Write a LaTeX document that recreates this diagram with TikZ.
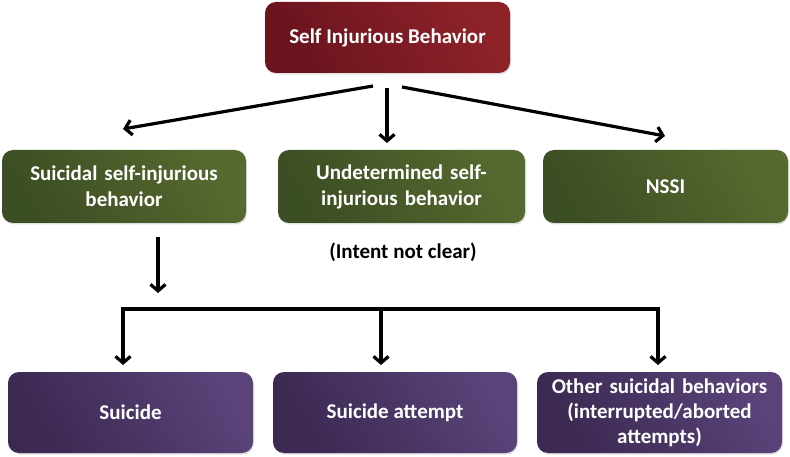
\documentclass[tikz,border=0pt]{standalone}
\usepackage{fontspec}
\setmainfont{Carlito}
\usetikzlibrary{arrows.meta,shadows}
\definecolor{redA}{HTML}{6A141E}
\definecolor{redB}{HTML}{8E2229}
\definecolor{grnA}{HTML}{3C4E23}
\definecolor{grnB}{HTML}{56692F}
\definecolor{purA}{HTML}{3B2951}
\definecolor{purB}{HTML}{594379}
\tikzset{
  box/.style={rounded corners=11pt, align=center, text=white,
    font=\fontsize{21}{26}\selectfont\bfseries, inner sep=2pt,
    drop shadow={shadow xshift=1pt, shadow yshift=-1.5pt, opacity=0.25}},
  redbox/.style={box, left color=redA, right color=redB, shading angle=120},
  grnbox/.style={box, left color=grnA, right color=grnB, shading angle=120},
  purbox/.style={box, left color=purA, right color=purB, shading angle=120},
  arr/.style={line width=3.2pt, -{Straight Barb[length=6.5pt,width=15pt,line width=3.2pt]}},
  ln/.style={line width=3.2pt}
}
\begin{document}
\begin{tikzpicture}[x=1pt,y=-1pt]
\useasboundingbox (0,0) rectangle (790,457);
\node[redbox, minimum width=245pt, minimum height=71pt] (top) at (387.5,37.5) {Self Injurious Behavior};
\node[grnbox, minimum width=244pt, minimum height=73pt, text width=230pt] (g1) at (124,186.5) {Suicidal self-injurious\\behavior};
\node[grnbox, minimum width=247pt, minimum height=73pt, text width=230pt] (g2) at (401.5,186.5) {Undetermined self-\\injurious behavior};
\node[grnbox, minimum width=245pt, minimum height=73pt] (g3) at (665.5,186.5) {NSSI};
\node[font=\fontsize{21}{24}\selectfont\bfseries] (intent) at (403,252) {(Intent not clear)};
\node[purbox, minimum width=245pt, minimum height=81pt] (p1) at (130.5,412.5) {Suicide};
\node[purbox, minimum width=244pt, minimum height=81pt] (p2) at (395,412.5) {Suicide attempt};
\node[purbox, minimum width=245pt, minimum height=81pt, text width=240pt, font=\fontsize{21}{25}\selectfont\bfseries] (p3) at (659.5,412.5) {Other suicidal behaviors\\(interrupted/aborted\\attempts)};
% top arrows
\coordinate (sL) at (373,86);
\coordinate (eL) at (123,129);
\coordinate (sM) at (387,88);
\coordinate (eM) at (387,143);
\coordinate (sR) at (402,87);
\coordinate (eR) at (665,136);
\draw[arr] (sL) -- (eL);
\draw[arr] (sM) -- (eM);
\draw[arr] (sR) -- (eR);
% down arrow from g1
\coordinate (dS) at (158,237);
\coordinate (dE) at (158,293);
\draw[arr] (dS) -- (dE);
% bracket
\coordinate (bL) at (123,309);
\coordinate (bM) at (381,309);
\coordinate (bR) at (658,309);
\coordinate (tL) at (123,365);
\coordinate (tM) at (381,365);
\coordinate (tR) at (658,365);
\draw[ln, line cap=rect] (bL) -- (bR);
\draw[arr] (bL) -- (tL);
\draw[arr] (bM) -- (tM);
\draw[arr] (bR) -- (tR);
\end{tikzpicture}
\end{document}
